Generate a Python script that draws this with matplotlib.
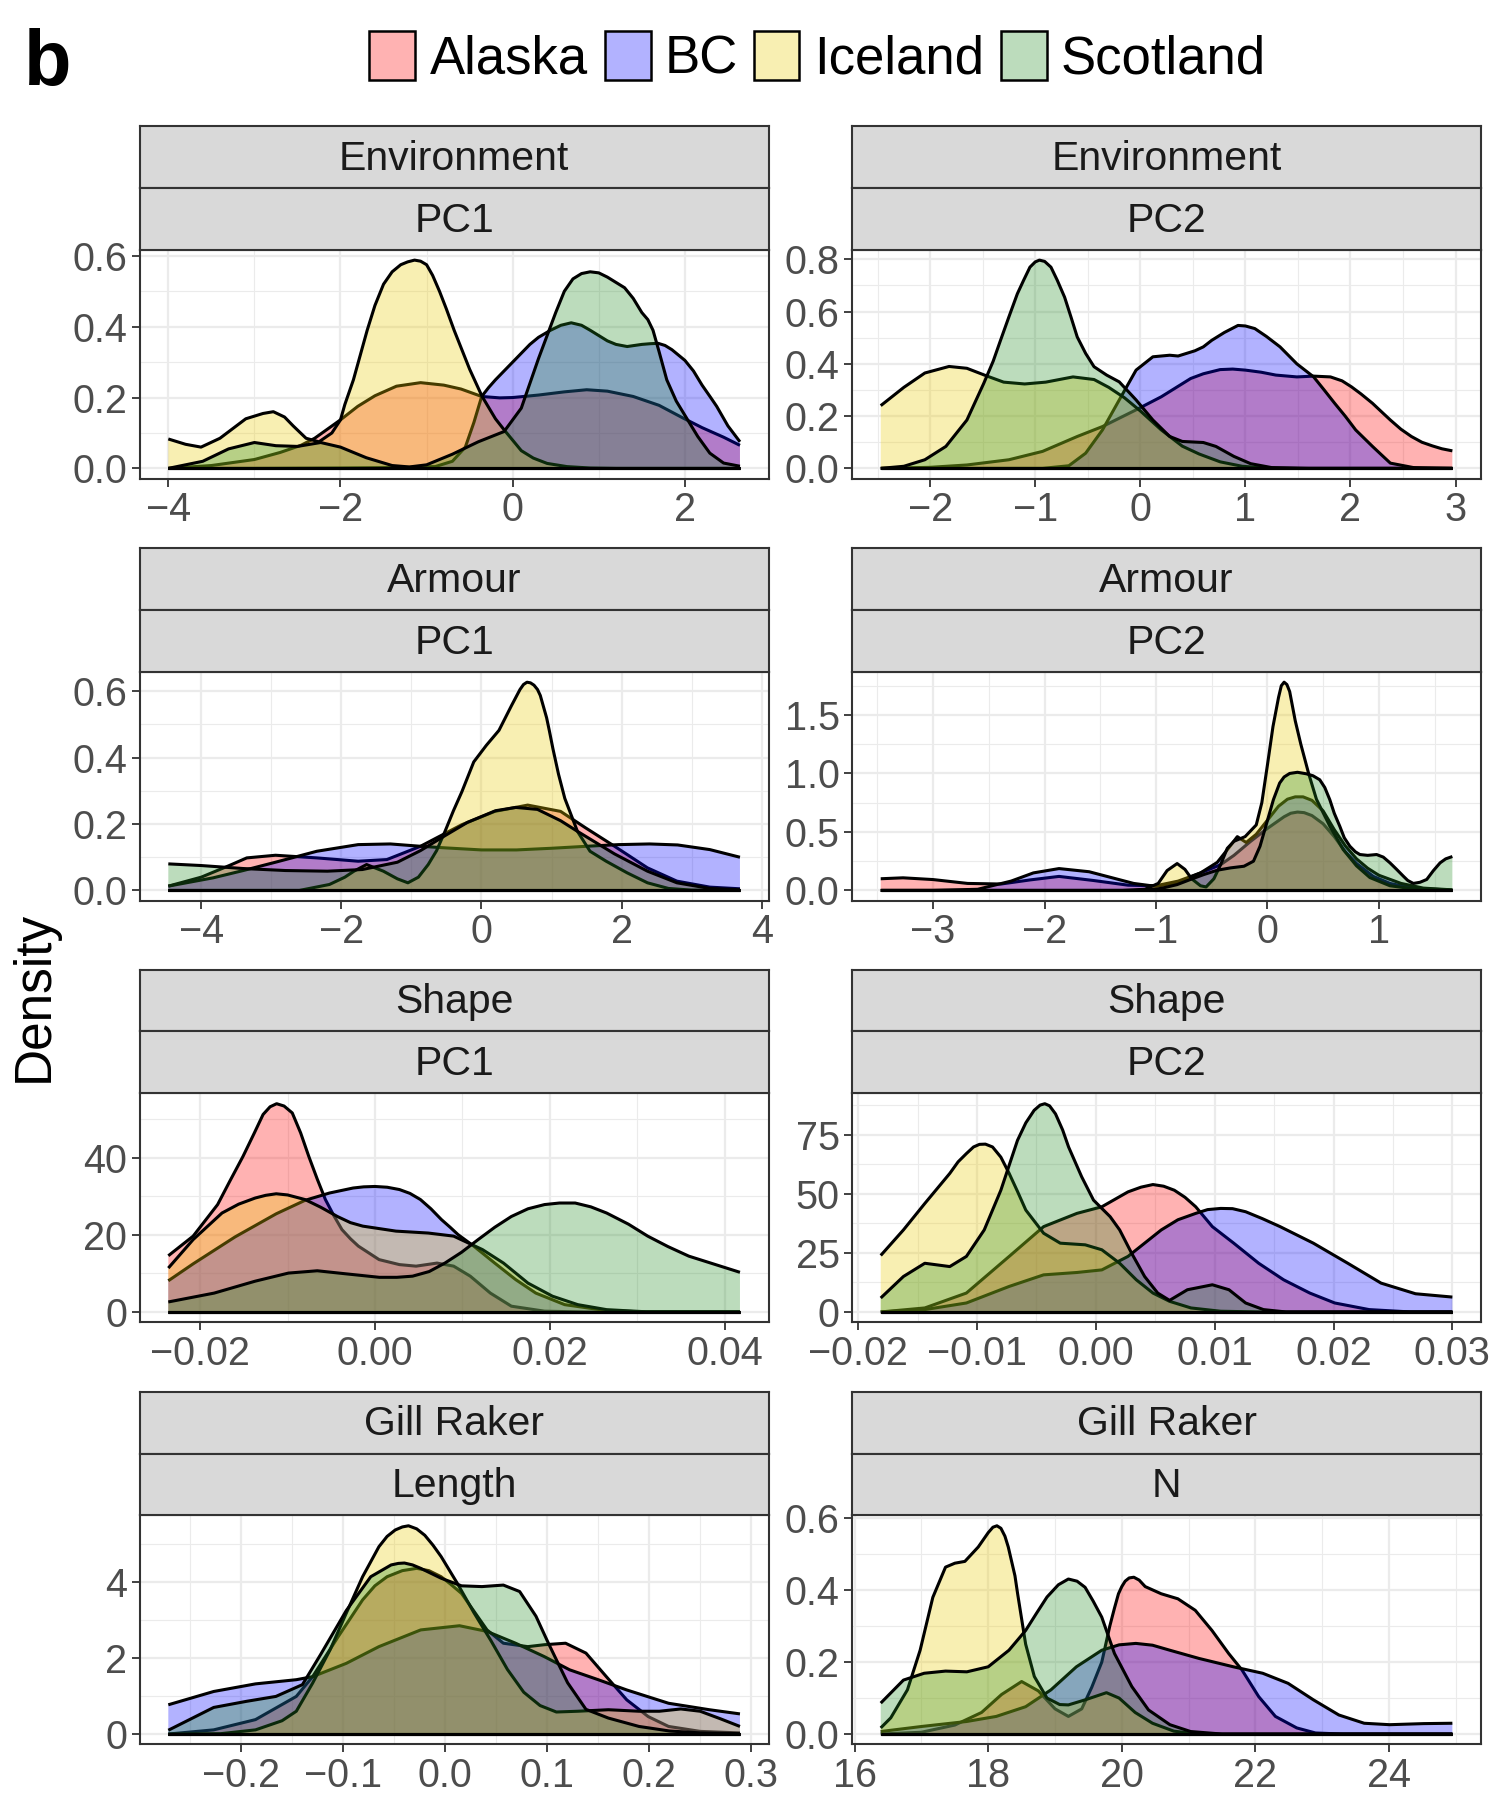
import matplotlib
matplotlib.use("Agg")
import matplotlib.pyplot as plt
from matplotlib.ticker import FixedLocator, FixedFormatter
from matplotlib.patches import Rectangle
from matplotlib.colors import to_rgba

plt.rcParams['font.family'] = ['Liberation Sans', 'DejaVu Sans']

GROUPS = ["Alaska", "BC", "Iceland", "Scotland"]
COLORS = ["#FF0000", "#0000FF", "#EBCA00", "#228B22"]
ALPHA = 0.3

# ---------------- Environment PC1 ----------------
ENV1_ALASKA_X = [-4.0, -3.5, -3.0, -2.7, -2.46, -2.3, -2.0, -1.8, -1.6, -1.35, -1.07, -0.8, -0.6, -0.36, -0.15, 0.0, 0.3, 0.6, 0.86, 1.1, 1.4, 1.7, 1.98, 2.2, 2.45, 2.64]
ENV1_ALASKA_Y = [0.0, 0.008, 0.025, 0.045, 0.065, 0.085, 0.137, 0.175, 0.205, 0.232, 0.242, 0.235, 0.224, 0.203, 0.199, 0.2, 0.207, 0.216, 0.222, 0.218, 0.203, 0.178, 0.142, 0.115, 0.088, 0.065]
ENV1_BC_X = [-4.0, -3.0, -2.0, -1.5, -1.2, -0.9, -0.7, -0.55, -0.45, -0.36, -0.28, -0.2, -0.1, 0.0, 0.1, 0.2, 0.3, 0.44, 0.56, 0.68, 0.8, 0.9, 1.0, 1.1, 1.2, 1.33, 1.5, 1.6, 1.69, 1.77, 1.85, 2.0, 2.1, 2.2, 2.3, 2.37, 2.5, 2.64]
ENV1_BC_Y = [0.0, 0.0, 0.001, 0.002, 0.003, 0.005, 0.02, 0.06, 0.13, 0.203, 0.228, 0.25, 0.275, 0.30, 0.325, 0.35, 0.37, 0.39, 0.404, 0.411, 0.404, 0.39, 0.375, 0.36, 0.35, 0.344, 0.35, 0.352, 0.353, 0.347, 0.335, 0.305, 0.275, 0.235, 0.2, 0.175, 0.12, 0.075]
ENV1_ICELAND_X = [-4.0, -3.8, -3.62, -3.4, -3.1, -2.9, -2.78, -2.65, -2.55, -2.4, -2.25, -2.1, -2.0, -1.95, -1.85, -1.77, -1.69, -1.6, -1.5, -1.4, -1.3, -1.22, -1.14, -1.07, -1.0, -0.93, -0.85, -0.77, -0.68, -0.5, -0.355, -0.2, -0.1, 0.1, 0.24, 0.4, 0.63, 0.9, 1.2, 2.64]
ENV1_ICELAND_Y = [0.083, 0.068, 0.06, 0.085, 0.14, 0.155, 0.16, 0.145, 0.12, 0.085, 0.075, 0.1, 0.137, 0.18, 0.25, 0.32, 0.39, 0.46, 0.52, 0.555, 0.575, 0.583, 0.588, 0.585, 0.575, 0.545, 0.5, 0.45, 0.39, 0.28, 0.203, 0.14, 0.109, 0.05, 0.029, 0.014, 0.005, 0.001, 0.0, 0.0]
ENV1_SCOTLAND_X = [-4.0, -3.6, -3.3, -3.0, -2.75, -2.5, -2.23, -2.0, -1.7, -1.4, -1.2, -1.0, -0.7, -0.4, -0.1, 0.1, 0.3, 0.5, 0.6, 0.7, 0.8, 0.9, 1.0, 1.1, 1.2, 1.3, 1.4, 1.5, 1.57, 1.63, 1.7, 1.79, 1.9, 2.02, 2.15, 2.29, 2.45, 2.64]
ENV1_SCOTLAND_Y = [0.0, 0.02, 0.055, 0.073, 0.064, 0.062, 0.073, 0.06, 0.03, 0.008, 0.004, 0.01, 0.04, 0.075, 0.104, 0.17, 0.31, 0.44, 0.5, 0.535, 0.55, 0.555, 0.552, 0.54, 0.525, 0.51, 0.48, 0.44, 0.42, 0.39, 0.33, 0.25, 0.19, 0.142, 0.09, 0.043, 0.015, 0.006]

# ---------------- Environment PC2 ----------------
ENV2_ALASKA_X = [-2.47, -2.0, -1.65, -1.25, -0.93, -0.6, -0.36, -0.04, 0.2, 0.48, 0.6, 0.76, 0.88, 1.0, 1.15, 1.29, 1.49, 1.65, 1.81, 1.92, 2.01, 2.1, 2.21, 2.3, 2.38, 2.48, 2.58, 2.68, 2.78, 2.87, 2.97]
ENV2_ALASKA_Y = [0.0, 0.004, 0.013, 0.033, 0.065, 0.122, 0.16, 0.224, 0.274, 0.344, 0.362, 0.378, 0.38, 0.376, 0.368, 0.357, 0.35, 0.353, 0.35, 0.335, 0.312, 0.285, 0.249, 0.215, 0.185, 0.15, 0.122, 0.1, 0.086, 0.075, 0.067]
ENV2_BC_X = [-2.47, -1.5, -0.93, -0.68, -0.52, -0.36, -0.2, -0.04, 0.12, 0.28, 0.36, 0.44, 0.52, 0.6, 0.68, 0.8, 0.93, 1.0, 1.09, 1.2, 1.33, 1.49, 1.65, 1.75, 1.85, 1.95, 2.05, 2.21, 2.3, 2.38, 2.6, 2.97]
ENV2_BC_Y = [0.0, 0.0, 0.0, 0.01, 0.058, 0.147, 0.262, 0.376, 0.427, 0.433, 0.43, 0.44, 0.45, 0.465, 0.49, 0.52, 0.547, 0.545, 0.535, 0.505, 0.465, 0.4, 0.35, 0.3, 0.249, 0.2, 0.147, 0.084, 0.05, 0.02, 0.003, 0.0]
ENV2_ICELAND_X = [-2.47, -2.25, -2.05, -1.82, -1.65, -1.47, -1.3, -1.1, -0.9, -0.64, -0.44, -0.3, -0.15, 0.0, 0.2, 0.4, 0.56, 0.76, 0.97, 1.2, 1.5, 2.97]
ENV2_ICELAND_Y = [0.24, 0.31, 0.365, 0.39, 0.383, 0.355, 0.33, 0.323, 0.33, 0.35, 0.34, 0.31, 0.27, 0.22, 0.147, 0.085, 0.055, 0.025, 0.008, 0.001, 0.0, 0.0]
ENV2_SCOTLAND_X = [-2.47, -2.25, -2.05, -1.85, -1.65, -1.49, -1.4, -1.33, -1.25, -1.17, -1.11, -1.05, -1.0, -0.96, -0.91, -0.85, -0.79, -0.72, -0.66, -0.6, -0.52, -0.44, -0.32, -0.2, -0.04, 0.12, 0.28, 0.4, 0.6, 0.72, 0.89, 1.05, 1.25, 1.6, 2.97]
ENV2_SCOTLAND_Y = [0.0, 0.008, 0.033, 0.084, 0.185, 0.325, 0.41, 0.49, 0.58, 0.668, 0.72, 0.77, 0.79, 0.797, 0.792, 0.77, 0.72, 0.655, 0.58, 0.503, 0.44, 0.389, 0.357, 0.331, 0.262, 0.185, 0.122, 0.103, 0.099, 0.084, 0.046, 0.018, 0.003, 0.0, 0.0]

# ---------------- Armour PC1 ----------------
ARM1_ALASKA_X = [-4.47, -4.0, -3.6, -3.35, -2.94, -2.35, -1.76, -1.35, -0.87, -0.28, 0.19, 0.66, 1.13, 1.49, 1.9, 2.37, 2.79, 3.26, 3.69]
ARM1_ALASKA_Y = [0.013, 0.04, 0.075, 0.098, 0.106, 0.098, 0.088, 0.093, 0.133, 0.198, 0.238, 0.257, 0.238, 0.188, 0.133, 0.068, 0.028, 0.01, 0.005]
ARM1_BC_X = [-4.47, -3.83, -3.4, -2.94, -2.35, -1.76, -1.3, -0.87, -0.5, 0.0, 0.5, 1.0, 1.5, 1.96, 2.4, 2.8, 3.26, 3.69]
ARM1_BC_Y = [0.013, 0.038, 0.06, 0.085, 0.118, 0.138, 0.14, 0.133, 0.128, 0.122, 0.122, 0.127, 0.133, 0.138, 0.14, 0.137, 0.123, 0.1]
ARM1_ICELAND_X = [-4.47, -2.6, -2.17, -1.95, -1.82, -1.64, -1.4, -1.2, -1.05, -0.9, -0.76, -0.64, -0.52, -0.4, -0.28, -0.11, 0.07, 0.25, 0.43, 0.55, 0.6, 0.65, 0.7, 0.75, 0.8, 0.84, 0.93, 0.97, 1.02, 1.1, 1.19, 1.37, 1.55, 1.78, 2.08, 2.37, 2.67, 3.0, 3.69]
ARM1_ICELAND_Y = [0.0, 0.0, 0.018, 0.04, 0.058, 0.078, 0.058, 0.035, 0.023, 0.04, 0.078, 0.12, 0.178, 0.24, 0.297, 0.387, 0.437, 0.482, 0.557, 0.605, 0.62, 0.627, 0.625, 0.618, 0.605, 0.587, 0.52, 0.48, 0.427, 0.35, 0.277, 0.178, 0.118, 0.088, 0.053, 0.023, 0.006, 0.001, 0.0]
ARM1_SCOTLAND_X = [-4.47, -4.0, -3.4, -2.8, -2.2, -1.7, -1.2, -0.87, -0.52, -0.2, 0.2, 0.49, 0.8, 1.13, 1.37, 1.9, 2.37, 2.79, 3.26, 3.69]
ARM1_SCOTLAND_Y = [0.08, 0.075, 0.066, 0.06, 0.058, 0.063, 0.085, 0.12, 0.165, 0.205, 0.24, 0.25, 0.244, 0.21, 0.178, 0.11, 0.058, 0.023, 0.006, 0.002]

# ---------------- Armour PC2 ----------------
ARM2_ALASKA_X = [-3.47, -3.27, -3.0, -2.69, -2.39, -2.13, -1.87, -1.56, -1.25, -1.0, -0.8, -0.6, -0.42, -0.3, -0.15, 0.0, 0.15, 0.21, 0.27, 0.33, 0.4, 0.5, 0.6, 0.7, 0.8, 0.95, 1.1, 1.3, 1.66]
ARM2_ALASKA_Y = [0.1, 0.108, 0.093, 0.06, 0.055, 0.09, 0.12, 0.085, 0.045, 0.04, 0.08, 0.15, 0.22, 0.3, 0.42, 0.53, 0.63, 0.66, 0.67, 0.665, 0.64, 0.57, 0.46, 0.33, 0.23, 0.12, 0.06, 0.02, 0.003]
ARM2_BC_X = [-3.47, -3.0, -2.6, -2.3, -2.1, -1.87, -1.6, -1.4, -1.2, -1.0, -0.8, -0.6, -0.45, -0.35, -0.27, -0.19, -0.1, 0.0, 0.1, 0.18, 0.25, 0.32, 0.4, 0.5, 0.6, 0.7, 0.8, 0.9, 1.0, 1.2, 1.4, 1.66]
ARM2_BC_Y = [0.0, 0.0, 0.01, 0.08, 0.15, 0.187, 0.16, 0.11, 0.06, 0.035, 0.07, 0.15, 0.24, 0.36, 0.46, 0.41, 0.48, 0.6, 0.72, 0.78, 0.8, 0.8, 0.77, 0.68, 0.52, 0.38, 0.27, 0.19, 0.13, 0.06, 0.02, 0.005]
ARM2_ICELAND_X = [-3.47, -1.3, -1.1, -0.98, -0.9, -0.81, -0.74, -0.68, -0.6, -0.55, -0.48, -0.42, -0.36, -0.3, -0.2, -0.1, -0.05, 0.0, 0.05, 0.1, 0.125, 0.15, 0.175, 0.2, 0.25, 0.3, 0.37, 0.44, 0.56, 0.68, 0.8, 0.92, 1.1, 1.34, 1.66]
ARM2_ICELAND_Y = [0.0, 0.0, 0.01, 0.06, 0.17, 0.23, 0.18, 0.1, 0.04, 0.03, 0.1, 0.22, 0.36, 0.42, 0.46, 0.56, 0.75, 1.07, 1.4, 1.65, 1.75, 1.78, 1.76, 1.7, 1.45, 1.25, 1.0, 0.78, 0.55, 0.35, 0.21, 0.11, 0.04, 0.01, 0.0]
ARM2_SCOTLAND_X = [-3.47, -1.2, -1.0, -0.93, -0.81, -0.69, -0.57, -0.45, -0.33, -0.21, -0.125, -0.066, -0.006, 0.054, 0.11, 0.15, 0.2, 0.27, 0.35, 0.41, 0.47, 0.515, 0.56, 0.6, 0.65, 0.69, 0.74, 0.79, 0.83, 0.9, 0.98, 1.04, 1.1, 1.16, 1.22, 1.26, 1.31, 1.37, 1.43, 1.49, 1.55, 1.6, 1.66]
ARM2_SCOTLAND_Y = [0.0, 0.0, 0.01, 0.023, 0.05, 0.094, 0.136, 0.173, 0.193, 0.207, 0.25, 0.378, 0.577, 0.776, 0.918, 0.97, 1.0, 1.01, 0.997, 0.98, 0.946, 0.88, 0.776, 0.66, 0.548, 0.45, 0.378, 0.33, 0.307, 0.3, 0.307, 0.285, 0.236, 0.18, 0.122, 0.085, 0.06, 0.07, 0.094, 0.17, 0.236, 0.27, 0.29]

# ---------------- Shape PC1 ----------------
SHP1_ALASKA_X = [-0.02364, -0.0208, -0.018, -0.0166, -0.0151, -0.0138, -0.0128, -0.012, -0.01125, -0.0104, -0.00946, -0.0085, -0.00757, -0.0066, -0.00567, -0.0047, -0.00378, -0.0028, -0.0019, 0.00047, 0.0028, 0.0047, 0.0071, 0.009, 0.0109, 0.0132, 0.0156, 0.0194, 0.024, 0.04175]
SHP1_ALASKA_Y = [14.6, 19.7, 27.9, 34.0, 40.4, 46.5, 51.3, 53.3, 54.1, 53.5, 51.7, 46.5, 40.4, 34.5, 29.2, 25.0, 21.4, 19.0, 17.1, 13.6, 12.3, 11.9, 12.7, 11.9, 9.3, 4.9, 1.5, 0.2, 0.0, 0.0]
SHP1_BC_X = [-0.02364, -0.0208, -0.016, -0.0113, -0.008, -0.0052, -0.0025, -0.0013, 0.0, 0.0014, 0.0028, 0.004, 0.0052, 0.0064, 0.0076, 0.0086, 0.0095, 0.0113, 0.0137, 0.0161, 0.0184, 0.0217, 0.0265, 0.031, 0.04175]
SHP1_BC_Y = [8.1, 12.5, 19.5, 25.5, 29.0, 30.9, 32.2, 32.5, 32.6, 32.4, 31.8, 30.8, 29.2, 26.8, 24.0, 22.0, 20.1, 17.1, 12.7, 8.4, 4.9, 1.9, 0.35, 0.0, 0.0]
SHP1_ICELAND_X = [-0.02364, -0.0208, -0.0175, -0.0156, -0.0137, -0.0125, -0.0113, -0.01, -0.008, -0.0062, -0.0043, -0.0028, -0.0014, 0.0024, 0.0061, 0.009, 0.0123, 0.0147, 0.0175, 0.0203, 0.0232, 0.0265, 0.031, 0.04175]
SHP1_ICELAND_Y = [11.4, 18.8, 25.7, 28.0, 29.6, 30.3, 30.7, 30.4, 29.2, 27.2, 24.8, 23.2, 22.3, 21.0, 20.5, 19.7, 16.2, 12.7, 7.5, 4.1, 1.9, 0.6, 0.05, 0.0]
SHP1_SCOTLAND_X = [-0.02364, -0.0184, -0.0137, -0.0099, -0.0066, -0.0033, 0.0005, 0.0025, 0.0043, 0.0062, 0.008, 0.0099, 0.0118, 0.0137, 0.0156, 0.0175, 0.0194, 0.0211, 0.0229, 0.0247, 0.0265, 0.029, 0.0312, 0.0335, 0.0359, 0.04175]
SHP1_SCOTLAND_Y = [2.6, 4.9, 8.0, 10.1, 10.7, 9.9, 9.0, 9.0, 9.3, 10.5, 12.7, 15.5, 18.8, 22.0, 24.8, 26.8, 27.9, 28.3, 28.3, 27.3, 25.7, 22.8, 19.7, 17.0, 14.5, 10.3]

# ---------------- Shape PC2 ----------------
SHP2_ALASKA_X = [-0.01811, -0.0144, -0.0109, -0.0073, -0.0044, -0.0016, 0.0005, 0.0027, 0.0038, 0.0048, 0.0057, 0.0066, 0.0075, 0.0084, 0.0098, 0.0116, 0.0137, 0.0158, 0.018, 0.0201, 0.023, 0.0265, 0.030]
SHP2_ALASKA_Y = [0.0, 1.7, 8.0, 23.5, 36.1, 41.7, 44.5, 50.8, 52.8, 53.9, 53.2, 51.5, 48.5, 44.5, 36.1, 29.1, 20.6, 13.6, 8.0, 3.8, 1.0, 0.0, 0.0]
SHP2_BC_X = [-0.01811, -0.0144, -0.0109, -0.0073, -0.0044, -0.0016, 0.0005, 0.0027, 0.0055, 0.0069, 0.0084, 0.0094, 0.0105, 0.0115, 0.0126, 0.014, 0.0155, 0.0183, 0.0212, 0.024, 0.0269, 0.030]
SHP2_BC_Y = [0.0, 1.0, 3.8, 10.8, 15.7, 16.7, 17.8, 23.5, 34.7, 39.0, 41.7, 43.3, 43.8, 43.7, 42.4, 39.5, 36.1, 29.1, 20.6, 12.2, 7.7, 6.3]
SHP2_ICELAND_X = [-0.01811, -0.0162, -0.0144, -0.0123, -0.0116, -0.0109, -0.0103, -0.0098, -0.0093, -0.0087, -0.008, -0.0073, -0.0066, -0.0059, -0.0044, -0.003, -0.0009, 0.0005, 0.002, 0.0034, 0.0048, 0.0062, 0.008, 0.0105, 0.014, 0.030]
SHP2_ICELAND_Y = [23.9, 34.7, 45.9, 58.6, 63.5, 67.0, 69.8, 70.9, 71.0, 69.8, 65.5, 58.6, 51.0, 43.1, 33.3, 29.1, 28.4, 26.3, 20.6, 13.6, 8.0, 4.5, 1.7, 0.3, 0.0, 0.0]
SHP2_SCOTLAND_X = [-0.01811, -0.0162, -0.0144, -0.0123, -0.0109, -0.0094, -0.008, -0.0066, -0.0059, -0.0052, -0.0047, -0.0043, -0.0039, -0.0034, -0.0028, -0.0023, -0.0012, -0.0002, 0.0012, 0.002, 0.003, 0.0041, 0.0052, 0.0062, 0.0077, 0.0098, 0.0112, 0.0126, 0.0141, 0.016, 0.030]
SHP2_SCOTLAND_Y = [5.9, 15.0, 20.6, 19.2, 23.5, 34.7, 51.5, 72.6, 80.0, 85.3, 87.5, 88.1, 87.2, 83.8, 77.0, 69.8, 57.2, 47.3, 40.3, 34.7, 24.9, 15.0, 8.0, 4.9, 9.4, 11.5, 9.4, 3.8, 1.0, 0.0, 0.0]

# ---------------- Gill Raker Length ----------------
GRL_ALASKA_X = [-0.2715, -0.227, -0.186, -0.146, -0.13, -0.105, -0.081, -0.069, -0.057, -0.042, -0.028, -0.016, -0.004, 0.005, 0.016, 0.041, 0.057, 0.081, 0.097, 0.118, 0.138, 0.158, 0.178, 0.199, 0.219, 0.25, 0.289]
GRL_ALASKA_Y = [0.0, 0.11, 0.38, 0.99, 1.51, 2.56, 3.53, 3.9, 4.14, 4.3, 4.36, 4.3, 4.14, 3.95, 3.7, 2.74, 2.39, 2.3, 2.35, 2.39, 2.13, 1.51, 0.9, 0.46, 0.2, 0.07, 0.03]
GRL_BC_X = [-0.2715, -0.227, -0.186, -0.146, -0.13, -0.097, -0.065, -0.024, 0.014, 0.041, 0.069, 0.097, 0.122, 0.15, 0.178, 0.219, 0.259, 0.289]
GRL_BC_Y = [0.77, 1.12, 1.32, 1.43, 1.51, 1.86, 2.3, 2.74, 2.85, 2.7, 2.39, 2.04, 1.69, 1.43, 1.16, 0.81, 0.64, 0.53]
GRL_ICELAND_X = [-0.2715, -0.22, -0.186, -0.16, -0.146, -0.13, -0.113, -0.097, -0.081, -0.065, -0.057, -0.049, -0.042, -0.036, -0.028, -0.02, -0.012, -0.004, 0.012, 0.028, 0.045, 0.061, 0.077, 0.093, 0.109, 0.13, 0.16, 0.19, 0.21, 0.231, 0.25, 0.27, 0.289]
GRL_ICELAND_Y = [0.0, 0.01, 0.11, 0.35, 0.6, 1.34, 2.21, 3.18, 4.14, 4.93, 5.2, 5.37, 5.45, 5.48, 5.4, 5.23, 4.97, 4.67, 3.96, 3.2, 2.45, 1.7, 1.1, 0.75, 0.58, 0.6, 0.64, 0.6, 0.6, 0.66, 0.6, 0.4, 0.2]
GRL_SCOTLAND_X = [-0.2715, -0.227, -0.195, -0.166, -0.14, -0.122, -0.097, -0.073, -0.053, -0.046, -0.04, -0.032, -0.024, -0.004, 0.016, 0.036, 0.057, 0.073, 0.089, 0.101, 0.11, 0.12, 0.138, 0.16, 0.19, 0.22, 0.25, 0.289]
GRL_SCOTLAND_Y = [0.1, 0.7, 0.86, 0.99, 1.3, 2.1, 3.25, 4.14, 4.45, 4.49, 4.5, 4.45, 4.36, 4.1, 3.9, 3.88, 3.92, 3.75, 3.1, 2.4, 1.9, 1.35, 0.65, 0.42, 0.2, 0.08, 0.03, 0.01]

# ---------------- Gill Raker N ----------------
GRN_ALASKA_X = [16.39, 17.0, 17.5, 17.9, 18.2, 18.5, 18.75, 19.0, 19.2, 19.4, 19.55, 19.7, 19.82, 19.89, 19.95, 20.0, 20.05, 20.11, 20.18, 20.26, 20.35, 20.59, 20.84, 21.1, 21.35, 21.6, 21.8, 22.05, 22.3, 22.62, 22.9, 23.3, 24.95]
GRN_ALASKA_Y = [0.0, 0.005, 0.025, 0.06, 0.11, 0.146, 0.12, 0.07, 0.049, 0.07, 0.13, 0.2, 0.3, 0.35, 0.39, 0.41, 0.425, 0.434, 0.436, 0.428, 0.41, 0.39, 0.376, 0.344, 0.288, 0.224, 0.178, 0.104, 0.049, 0.017, 0.003, 0.0, 0.0]
GRN_BC_X = [16.39, 17.0, 17.68, 18.12, 18.56, 18.94, 19.32, 19.7, 19.96, 20.21, 20.46, 20.72, 21.16, 21.67, 22.11, 22.49, 22.87, 23.25, 23.63, 24.01, 24.52, 24.95]
GRN_BC_Y = [0.007, 0.021, 0.035, 0.049, 0.076, 0.123, 0.187, 0.233, 0.248, 0.252, 0.247, 0.233, 0.21, 0.187, 0.169, 0.141, 0.095, 0.053, 0.03, 0.026, 0.029, 0.03]
GRN_ICELAND_X = [16.39, 16.54, 16.79, 16.98, 17.17, 17.36, 17.5, 17.65, 17.85, 18.0, 18.07, 18.13, 18.19, 18.25, 18.3, 18.35, 18.4, 18.44, 18.5, 18.56, 18.69, 18.88, 19.07, 19.2, 19.45, 19.77, 19.96, 20.2, 20.46, 20.78, 21.1, 21.5, 24.95]
GRN_ICELAND_Y = [0.017, 0.045, 0.123, 0.233, 0.38, 0.464, 0.475, 0.48, 0.52, 0.56, 0.575, 0.579, 0.572, 0.55, 0.52, 0.48, 0.44, 0.39, 0.32, 0.25, 0.16, 0.1, 0.082, 0.081, 0.095, 0.115, 0.1, 0.06, 0.03, 0.008, 0.001, 0.0, 0.0]
GRN_SCOTLAND_X = [16.39, 16.73, 17.04, 17.36, 17.68, 18.0, 18.31, 18.56, 18.72, 18.88, 19.05, 19.2, 19.33, 19.45, 19.57, 19.7, 19.89, 20.15, 20.4, 20.72, 21.03, 21.5, 24.95]
GRN_SCOTLAND_Y = [0.086, 0.15, 0.169, 0.175, 0.173, 0.187, 0.233, 0.288, 0.335, 0.381, 0.415, 0.431, 0.425, 0.408, 0.37, 0.325, 0.224, 0.132, 0.067, 0.026, 0.007, 0.0, 0.0]

# ---------------- facets ----------------
STRIP_TOP = ["Environment", "Environment", "Armour", "Armour", "Shape", "Shape", "Gill Raker", "Gill Raker"]
STRIP_BOTTOM = ["PC1", "PC2", "PC1", "PC2", "PC1", "PC2", "Length", "N"]

X_TICKS = [[-4, -2, 0, 2], [-2, -1, 0, 1, 2, 3], [-4, -2, 0, 2, 4], [-3, -2, -1, 0, 1],
           [-0.02, 0.0, 0.02, 0.04], [-0.02, -0.01, 0.0, 0.01, 0.02, 0.03],
           [-0.2, -0.1, 0.0, 0.1, 0.2, 0.3], [16, 18, 20, 22, 24]]
X_LABELS = [["\u22124", "\u22122", "0", "2"], ["\u22122", "\u22121", "0", "1", "2", "3"],
            ["\u22124", "\u22122", "0", "2", "4"], ["\u22123", "\u22122", "\u22121", "0", "1"],
            ["\u22120.02", "0.00", "0.02", "0.04"],
            ["\u22120.02", "\u22120.01", "0.00", "0.01", "0.02", "0.03"],
            ["\u22120.2", "\u22120.1", "0.0", "0.1", "0.2", "0.3"], ["16", "18", "20", "22", "24"]]
Y_TICKS = [[0, 0.2, 0.4, 0.6], [0, 0.2, 0.4, 0.6, 0.8], [0, 0.2, 0.4, 0.6], [0, 0.5, 1.0, 1.5],
           [0, 20, 40], [0, 25, 50, 75], [0, 2, 4], [0, 0.2, 0.4, 0.6]]
Y_LABELS = [["0.0", "0.2", "0.4", "0.6"], ["0.0", "0.2", "0.4", "0.6", "0.8"],
            ["0.0", "0.2", "0.4", "0.6"], ["0.0", "0.5", "1.0", "1.5"],
            ["0", "20", "40"], ["0", "25", "50", "75"], ["0", "2", "4"],
            ["0.0", "0.2", "0.4", "0.6"]]

CURVES = [
    [(ENV1_ALASKA_X, ENV1_ALASKA_Y), (ENV1_BC_X, ENV1_BC_Y), (ENV1_ICELAND_X, ENV1_ICELAND_Y), (ENV1_SCOTLAND_X, ENV1_SCOTLAND_Y)],
    [(ENV2_ALASKA_X, ENV2_ALASKA_Y), (ENV2_BC_X, ENV2_BC_Y), (ENV2_ICELAND_X, ENV2_ICELAND_Y), (ENV2_SCOTLAND_X, ENV2_SCOTLAND_Y)],
    [(ARM1_ALASKA_X, ARM1_ALASKA_Y), (ARM1_BC_X, ARM1_BC_Y), (ARM1_ICELAND_X, ARM1_ICELAND_Y), (ARM1_SCOTLAND_X, ARM1_SCOTLAND_Y)],
    [(ARM2_ALASKA_X, ARM2_ALASKA_Y), (ARM2_BC_X, ARM2_BC_Y), (ARM2_ICELAND_X, ARM2_ICELAND_Y), (ARM2_SCOTLAND_X, ARM2_SCOTLAND_Y)],
    [(SHP1_ALASKA_X, SHP1_ALASKA_Y), (SHP1_BC_X, SHP1_BC_Y), (SHP1_ICELAND_X, SHP1_ICELAND_Y), (SHP1_SCOTLAND_X, SHP1_SCOTLAND_Y)],
    [(SHP2_ALASKA_X, SHP2_ALASKA_Y), (SHP2_BC_X, SHP2_BC_Y), (SHP2_ICELAND_X, SHP2_ICELAND_Y), (SHP2_SCOTLAND_X, SHP2_SCOTLAND_Y)],
    [(GRL_ALASKA_X, GRL_ALASKA_Y), (GRL_BC_X, GRL_BC_Y), (GRL_ICELAND_X, GRL_ICELAND_Y), (GRL_SCOTLAND_X, GRL_SCOTLAND_Y)],
    [(GRN_ALASKA_X, GRN_ALASKA_Y), (GRN_BC_X, GRN_BC_Y), (GRN_ICELAND_X, GRN_ICELAND_Y), (GRN_SCOTLAND_X, GRN_SCOTLAND_Y)],
]

# ---------------- layout (reference pixel grid 1314 x 1568) ----------------
W, H = 1314.0, 1568.0
COL_X = [122, 744]
PANEL_W = 549
ROW_TOP = [218, 586.5, 954.5, 1323]
PANEL_H = 200
STRIP_H = 54

TICK_SIZE = 28.5
STRIP_SIZE = 29.5
LINE_W = 2.2
GRID_C = "#EBEBEB"
DARK = "#333333"


def fx(px):
    return px / W


def fy(py):
    return 1 - py / H


def minor_positions(ticks):
    step = ticks[1] - ticks[0]
    mids = [(a + b) / 2 for a, b in zip(ticks[:-1], ticks[1:])]
    return [ticks[0] - step / 2] + mids + [ticks[-1] + step / 2]


fig = plt.figure(figsize=(15.05, 17.96), dpi=100)
fig.patch.set_facecolor("white")

for i in range(8):
    row, col = divmod(i, 2)
    x0 = COL_X[col]
    top = ROW_TOP[row]
    ax = fig.add_axes([fx(x0), fy(top + PANEL_H), PANEL_W / W, PANEL_H / H])

    allx = [v for cx, cy in CURVES[i] for v in cx]
    ally = [v for cx, cy in CURVES[i] for v in cy]
    xmin, xmax = min(allx), max(allx)
    r = xmax - xmin
    ymax = max(ally)

    for g, (cx, cy) in enumerate(CURVES[i]):
        ax.fill_between(cx, 0, cy, facecolor=COLORS[g], alpha=ALPHA, linewidth=0, zorder=2 + 2 * g)
        ax.plot(cx, cy, color="black", lw=LINE_W, zorder=3 + 2 * g, solid_joinstyle="round", solid_capstyle="butt")
        ax.plot([cx[0], cx[-1]], [0, 0], color="black", lw=LINE_W, zorder=3 + 2 * g, solid_capstyle="butt")

    ax.set_xlim(xmin - 0.05 * r, xmax + 0.05 * r)
    ax.set_ylim(-0.05 * ymax, 1.05 * ymax)

    ax.xaxis.set_major_locator(FixedLocator(X_TICKS[i]))
    ax.xaxis.set_major_formatter(FixedFormatter(X_LABELS[i]))
    ax.yaxis.set_major_locator(FixedLocator(Y_TICKS[i]))
    ax.yaxis.set_major_formatter(FixedFormatter(Y_LABELS[i]))
    ax.xaxis.set_minor_locator(FixedLocator(minor_positions(X_TICKS[i])))
    ax.yaxis.set_minor_locator(FixedLocator(minor_positions(Y_TICKS[i])))

    ax.set_axisbelow(True)
    ax.grid(which="major", color=GRID_C, lw=1.6, zorder=0)
    ax.grid(which="minor", color=GRID_C, lw=0.8, zorder=0)
    ax.tick_params(which="major", direction="out", length=6, width=1.3, color=DARK,
                   labelsize=TICK_SIZE, labelcolor="#4D4D4D", pad=3)
    ax.tick_params(which="minor", length=0)
    for s in ax.spines.values():
        s.set_color(DARK)
        s.set_linewidth(1.5)
        s.set_zorder(20)

    # facet strips
    for k, label in enumerate([STRIP_TOP[i], STRIP_BOTTOM[i]]):
        s_top = top - 2 * STRIP_H + k * STRIP_H
        sax = fig.add_axes([fx(x0), fy(s_top + STRIP_H), PANEL_W / W, STRIP_H / H])
        sax.set_facecolor("#D9D9D9")
        sax.set_xticks([])
        sax.set_yticks([])
        for s in sax.spines.values():
            s.set_color(DARK)
            s.set_linewidth(1.5)
        sax.text(0.5, 0.47, label, ha="center", va="center", fontsize=STRIP_SIZE,
                 color="#1A1A1A", transform=sax.transAxes)

# legend (top)
KEY_X = [322, 528, 658, 874]
TEXT_X = [375, 580, 711, 926]
for g in range(4):
    fig.add_artist(Rectangle((fx(KEY_X[g]), fy(70)), 40 / W, 43 / H, transform=fig.transFigure,
                             facecolor=to_rgba(COLORS[g], ALPHA), edgecolor="black", lw=1.8))
    fig.text(fx(TEXT_X[g]), fy(64), GROUPS[g], fontsize=38, ha="left", va="baseline", color="black")

fig.text(fx(21), fy(74), "b", fontsize=56, fontweight="bold", ha="left", va="baseline")
fig.text(fx(30), fy(870), "Density", rotation=90, fontsize=37, ha="center", va="center")

fig.savefig("out.png", dpi=100, facecolor="white")
